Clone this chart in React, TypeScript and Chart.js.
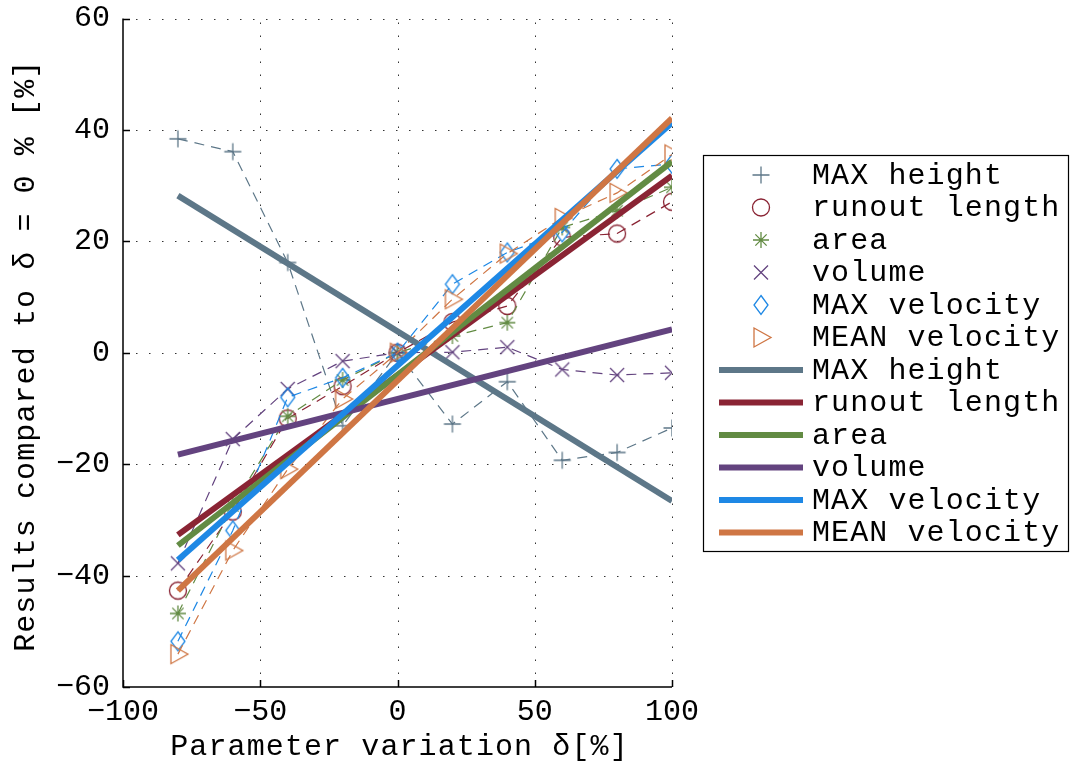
import React, { useEffect, useRef } from 'react';
import { Chart, registerables } from 'chart.js';

Chart.register(...registerables);

// ---- data ----
const xValues = [-80, -60, -40, -20, 0, 20, 40, 60, 80, 100];
const maxHeight = [38.4, 36.1, 16.2, -13.1, 0, -12.8, -5.2, -19.3, -17.9, -13.5];
const runoutLength = [-42.7, -28.5, -11.8, -6.0, 0, 5.5, 8.4, 20.7, 21.4, 27.1];
const area = [-46.8, -27.5, -11.4, -4.9, 0, 3.0, 5.4, 22.5, 25.5, 29.7];
const volume = [-37.8, -15.5, -6.5, -1.5, 0, 0.1, 1.0, -3.0, -4.0, -3.6];
const maxVelocity = [-51.8, -31.9, -8.0, -4.5, 0, 12.3, 18.0, 21.6, 33.0, 33.9];
const meanVelocity = [-54.1, -35.5, -20.9, -8.3, 0, 9.6, 17.8, 24.2, 28.7, 35.6];

const fitX = [-80, 100];
const fitMaxHeight = [28.2, -26.6];
const fitRunoutLength = [-32.7, 31.8];
const fitArea = [-34.6, 34.3];
const fitVolume = [-18.3, 4.2];
const fitMaxVelocity = [-37.2, 41.3];
const fitMeanVelocity = [-42.7, 42.1];

const seriesNames = ['MAX height', 'runout length', 'area', 'volume', 'MAX velocity', 'MEAN velocity'];
const xTicks = [-100, -50, 0, 50, 100];
const yTicks = [-60, -40, -20, 0, 20, 40, 60];
const xTitle = 'Parameter variation δ[%]';
const yTitle = 'Results compared to δ = 0 % [%]';

// ---- styles ----
const colors = ['#5d7788', '#8a2434', '#628b43', '#63437f', '#1e88e5', '#cf7644'];
const markerKinds = ['plus', 'circle', 'star', 'x', 'diamond', 'triangle'];
const FONT = '"Liberation Mono", "DejaVu Sans Mono", monospace';

function drawMarker(ctx: CanvasRenderingContext2D, kind: string, x: number, y: number, color: string) {
  ctx.save();
  ctx.strokeStyle = color;
  ctx.lineWidth = 1.3;
  ctx.setLineDash([]);
  ctx.beginPath();
  if (kind === 'plus') {
    ctx.moveTo(x - 8.5, y); ctx.lineTo(x + 8.5, y);
    ctx.moveTo(x, y - 8.5); ctx.lineTo(x, y + 8.5);
  } else if (kind === 'circle') {
    ctx.arc(x, y, 8.5, 0, Math.PI * 2);
  } else if (kind === 'star') {
    const r = 8;
    const d = r * Math.SQRT1_2;
    ctx.moveTo(x - r, y); ctx.lineTo(x + r, y);
    ctx.moveTo(x, y - r); ctx.lineTo(x, y + r);
    ctx.moveTo(x - d, y - d); ctx.lineTo(x + d, y + d);
    ctx.moveTo(x - d, y + d); ctx.lineTo(x + d, y - d);
  } else if (kind === 'x') {
    const d = 7;
    ctx.moveTo(x - d, y - d); ctx.lineTo(x + d, y + d);
    ctx.moveTo(x - d, y + d); ctx.lineTo(x + d, y - d);
  } else if (kind === 'diamond') {
    ctx.moveTo(x, y - 9.5); ctx.lineTo(x + 7, y); ctx.lineTo(x, y + 9.5); ctx.lineTo(x - 7, y);
    ctx.closePath();
  } else if (kind === 'triangle') {
    ctx.moveTo(x - 7, y - 9.5); ctx.lineTo(x + 10, y); ctx.lineTo(x - 7, y + 9.5);
    ctx.closePath();
  }
  ctx.stroke();
  ctx.restore();
}

function makeMarkerCanvas(kind: string, color: string): HTMLCanvasElement {
  const c = document.createElement('canvas');
  c.width = 26; c.height = 26;
  const cx = c.getContext('2d')!;
  drawMarker(cx, kind, 13, 13, color);
  return c;
}

const fmt = (v: number) => (v < 0 ? '\u2212' + Math.abs(v) : String(v));

const decorPlugin = {
  id: 'decor',
  beforeDatasetsDraw(chart: any) {
    const { ctx, chartArea: a, scales } = chart;
    const xs = scales.x, ys = scales.y;
    ctx.save();
    ctx.strokeStyle = '#333';
    ctx.lineWidth = 1;
    ctx.setLineDash([1.5, 11.5]);
    ctx.beginPath();
    xTicks.forEach((v) => {
      if (v === xTicks[0]) return;
      const px = Math.round(xs.getPixelForValue(v)) + 0.5;
      ctx.moveTo(px, a.bottom);
      ctx.lineTo(px, a.top);
    });
    yTicks.forEach((v) => {
      if (v === yTicks[0]) return;
      const py = Math.round(ys.getPixelForValue(v)) + 0.5;
      ctx.moveTo(a.left, py);
      ctx.lineTo(a.right, py);
    });
    ctx.stroke();
    ctx.setLineDash([]);
    ctx.strokeStyle = '#000';
    ctx.lineWidth = 1.5;
    ctx.beginPath();
    ctx.moveTo(a.left, a.top);
    ctx.lineTo(a.left, a.bottom);
    ctx.lineTo(a.right, a.bottom);
    xTicks.forEach((v) => {
      const px = Math.round(xs.getPixelForValue(v)) + 0.5;
      ctx.moveTo(px, a.bottom);
      ctx.lineTo(px, a.bottom - 7);
    });
    yTicks.forEach((v) => {
      const py = Math.round(ys.getPixelForValue(v)) + 0.5;
      ctx.moveTo(a.left, py);
      ctx.lineTo(a.left + 7, py);
    });
    ctx.stroke();
    ctx.restore();
  },
  afterDraw(chart: any) {
    const { ctx, chartArea: a } = chart;
    ctx.save();
    ctx.fillStyle = '#000';
    ctx.font = `30px ${FONT}`;
    (ctx as any).letterSpacing = '1.1px';
    // axis titles
    ctx.textAlign = 'center';
    ctx.textBaseline = 'alphabetic';
    ctx.fillText(xTitle, (a.left + a.right) / 2 + 2, 755);
    ctx.save();
    ctx.translate(34, (a.top + a.bottom) / 2 + 3);
    ctx.rotate(-Math.PI / 2);
    ctx.fillText(yTitle, 0, 0);
    ctx.restore();

    // legend box
    const bx = 703.5, by = 155.5, bw = 365, bh = 396;
    ctx.fillStyle = '#fff';
    ctx.fillRect(bx, by, bw, bh);
    ctx.strokeStyle = '#000';
    ctx.lineWidth = 1.2;
    ctx.strokeRect(bx, by, bw, bh);
    ctx.fillStyle = '#000';
    ctx.textAlign = 'left';
    ctx.textBaseline = 'middle';
    const ds = chart.data.datasets;
    ds.forEach((d: any, i: number) => {
      const ry = 175 + i * 32.5;
      const k = i % 6;
      if (i < 6) {
        drawMarker(ctx, markerKinds[k], 761, ry, colors[k]);
      } else {
        ctx.save();
        ctx.strokeStyle = d.borderColor;
        ctx.lineWidth = 6;
        ctx.beginPath();
        ctx.moveTo(719, ry);
        ctx.lineTo(803, ry);
        ctx.stroke();
        ctx.restore();
      }
      ctx.fillText(d.label, 812, ry + 1);
    });
    ctx.restore();
  },
};

export default function App() {
  const ref = useRef<HTMLCanvasElement>(null);
  useEffect(() => {
    if (!ref.current) return;
    const dataSeries = [maxHeight, runoutLength, area, volume, maxVelocity, meanVelocity];
    const fitSeries = [fitMaxHeight, fitRunoutLength, fitArea, fitVolume, fitMaxVelocity, fitMeanVelocity];
    const datasets: any[] = [];
    dataSeries.forEach((vals, i) => {
      datasets.push({
        label: seriesNames[i],
        data: xValues.map((x, j) => ({ x, y: vals[j] })),
        borderColor: colors[i],
        backgroundColor: colors[i],
        borderWidth: 1.2,
        borderDash: [10, 7],
        pointStyle: makeMarkerCanvas(markerKinds[i], colors[i]),
        pointRadius: 8,
        pointHoverRadius: 8,
        tension: 0,
        fill: false,
        order: 100 - datasets.length,
      });
    });
    fitSeries.forEach((vals, i) => {
      datasets.push({
        label: seriesNames[i],
        data: fitX.map((x, j) => ({ x, y: vals[j] })),
        borderColor: colors[i],
        backgroundColor: colors[i],
        borderWidth: 6,
        borderCapStyle: 'butt',
        pointRadius: 0,
        pointHoverRadius: 0,
        tension: 0,
        fill: false,
        order: 100 - datasets.length,
      });
    });

    const chart = new Chart(ref.current, {
      type: 'line',
      data: { datasets },
      options: {
        animation: false,
        responsive: false,
        devicePixelRatio: 1,
        layout: { padding: { left: 0, right: 1071 - 672, top: 18.5, bottom: 0 } },
        plugins: { legend: { display: false }, tooltip: { enabled: false } },
        events: [],
        scales: {
          x: {
            type: 'linear',
            min: -100,
            max: 100,
            afterBuildTicks: (s: any) => { s.ticks = xTicks.map((v) => ({ value: v })); },
            afterFit: (s: any) => {
              s.height = 763 - 687;
              s.paddingLeft = 0; s.paddingRight = 0; s.paddingTop = 0; s.paddingBottom = 0;
            },
            grid: { display: false, drawTicks: false },
            border: { display: false },
            ticks: {
              padding: 7,
              color: '#000',
              font: { family: FONT, size: 30 },
              maxRotation: 0,
              autoSkip: false,
              callback: (v: any) => fmt(Number(v)),
            },
          },
          y: {
            type: 'linear',
            min: -60,
            max: 60,
            afterBuildTicks: (s: any) => { s.ticks = yTicks.map((v) => ({ value: v })); },
            afterFit: (s: any) => {
              s.width = 123;
              s.paddingLeft = 0; s.paddingRight = 0; s.paddingTop = 0; s.paddingBottom = 0;
            },
            grid: { display: false, drawTicks: false },
            border: { display: false },
            ticks: {
              padding: 13,
              color: '#000',
              font: { family: FONT, size: 30 },
              autoSkip: false,
              callback: (v: any) => fmt(Number(v)),
            },
          },
        },
      } as any,
      plugins: [decorPlugin],
    });
    return () => chart.destroy();
  }, []);

  return (
    <div style={{ position: 'absolute', left: 0, top: 0, width: 1071, height: 763, background: '#fff' }}>
      <canvas ref={ref} width={1071} height={763} style={{ display: 'block' }} />
    </div>
  );
}
